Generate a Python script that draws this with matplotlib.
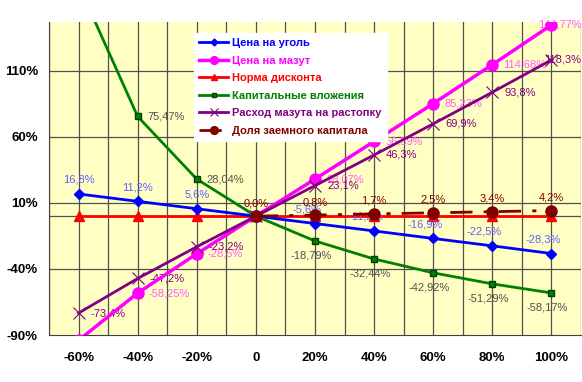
import numpy as np
from matplotlib import pyplot as plt

plt.rcParams['font.family'] = ['Liberation Sans', 'DejaVu Sans']

# исходные данные (в процентах)
categories = ['-60%', '-40%', '-20%', '0', '20%', '40%', '60%', '80%', '100%']
coal = [16.8, 11.2, 5.6, 0.0, -5.6, -11.2, -16.9, -22.5, -28.3]
mazut = [-94.0, -58.25, -28.5, 0.0, 28.07, 56.59, 85.23, 114.68, 144.77]
discount = [0, 0, 0, 0, 0, 0, 0, 0, 0]
capital = [175.0, 75.47, 28.04, 0.0, -18.79, -32.44, -42.92, -51.29, -58.17]
fuel = [-73.4, -47.2, -23.2, 0.0, 23.1, 46.3, 69.9, 93.8, 118.3]
debt = [np.nan, np.nan, np.nan, 0.0, 0.8, 1.7, 2.5, 3.4, 4.2]

names = ['Цена на уголь', 'Цена на мазут', 'Норма дисконта',
         'Капитальные вложения', 'Расход мазута на растопку', 'Доля заемного капитала']
yticks = [-90, -40, 10, 60, 110]


def fmt(v, nd):
    if nd is None:
        s = f'{v:g}%'
    else:
        s = f'{v:.{nd}f}%'
    return s.replace('.', ',')


x = np.arange(len(categories))

fig = plt.figure(figsize=(5.82, 3.82), dpi=100)
ax = fig.add_axes([49 / 582, 47 / 382, 532 / 582, 313 / 382])
ax.set_facecolor('#FFFFC4')

# сетка: вертикальные линии через полкатегории
for gx in np.arange(-0.5, 8.51, 0.5):
    ax.axvline(gx, color='#505050', lw=0.9, zorder=1)
for gy in yticks[1:]:
    ax.axhline(gy, color='#505050', lw=0.9, zorder=1)
ax.axhline(0, color='#505050', lw=0.9, zorder=1)

l1, = ax.plot(x, coal, color='#0000FF', lw=2, marker='D', ms=5, zorder=5)
l2, = ax.plot(x, mazut, color='#FF00FF', lw=2.5, marker='o', ms=8, zorder=5)
l3, = ax.plot(x, discount, color='#FF0000', lw=2, marker='^', ms=6.5, zorder=4)
l4, = ax.plot(x, capital, color='#008000', lw=2, marker='s', ms=4,
              mfc='#008000', mec='#004000', zorder=5)
l5, = ax.plot(x, fuel, color='#800080', lw=2, marker='x', ms=8, mew=0.8,
              zorder=5)
l6, = ax.plot(x, debt, color='#800000', lw=2, marker='o', ms=8,
              dashes=(8, 4, 1.5, 4), zorder=6)


def labels(vals, nd, color, dx, dy, ha='center', skip=(3,), last=None):
    for i, v in enumerate(vals):
        if i in skip or np.isnan(v):
            continue
        ox, oy = dx(i) if callable(dx) else dx, dy(i) if callable(dy) else dy
        h = ha
        if last is not None and i == len(vals) - 1:
            ox, h = last, 'left'
        ax.annotate(fmt(v, nd), (x[i], v), xytext=(ox, oy),
                    textcoords='offset pixels', ha=h, va='center',
                    fontsize=8, color=color, zorder=4.5, annotation_clip=True)


labels(coal, 1, '#5F5FFF', lambda i: 0 if i < 3 else -8, 14)
labels(mazut, None, '#FF5CFF', 11, 0, ha='left', skip=(0, 3), last=-13)
labels(capital, 2, '#505050', lambda i: 10 if i < 3 else -4,
       lambda i: 0 if i < 3 else -15, ha='center', skip=(0, 3))
labels(fuel, 1, '#800080', 12, 0, ha='left', last=-7)
labels(debt, 1, '#800000', 0, 13, skip=())

# подписи капитальных вложений справа от точки выровнены влево
for t in ax.texts:
    if t.get_text() in ('75,47%', '28,04%'):
        t.set_ha('left')

ax.set_xlim(-0.5, 8.5)
ax.set_ylim(-90, 147)
ax.set_xticks(x)
ax.set_xticklabels(categories)
ax.set_yticks(yticks)
ax.set_yticklabels([f'{t}%' for t in yticks])
ax.tick_params(length=0, labelsize=9.5)
for lab in ax.get_xticklabels() + ax.get_yticklabels():
    lab.set_fontweight('bold')
ax.tick_params(axis='y', pad=8)
ax.tick_params(axis='x', pad=12)
for s in ['top', 'right']:
    ax.spines[s].set_visible(False)
for s in ['left', 'bottom']:
    ax.spines[s].set_color('#404040')

leg = fig.legend([l1, l2, l3, l4, l5, l6], names, loc='upper left',
                 bbox_to_anchor=(188 / 582, 1 - 27 / 382), frameon=True,
                 fancybox=False, edgecolor='white', facecolor='white',
                 framealpha=1, prop={'size': 8, 'weight': 'bold'},
                 handlelength=2.6, handletextpad=0.4, labelspacing=0.68,
                 borderpad=0.5, markerscale=0.7)
for txt, ln in zip(leg.get_texts(), [l1, l2, l3, l4, l5, l6]):
    txt.set_color(ln.get_color())

fig.savefig('out.png', dpi=100)
